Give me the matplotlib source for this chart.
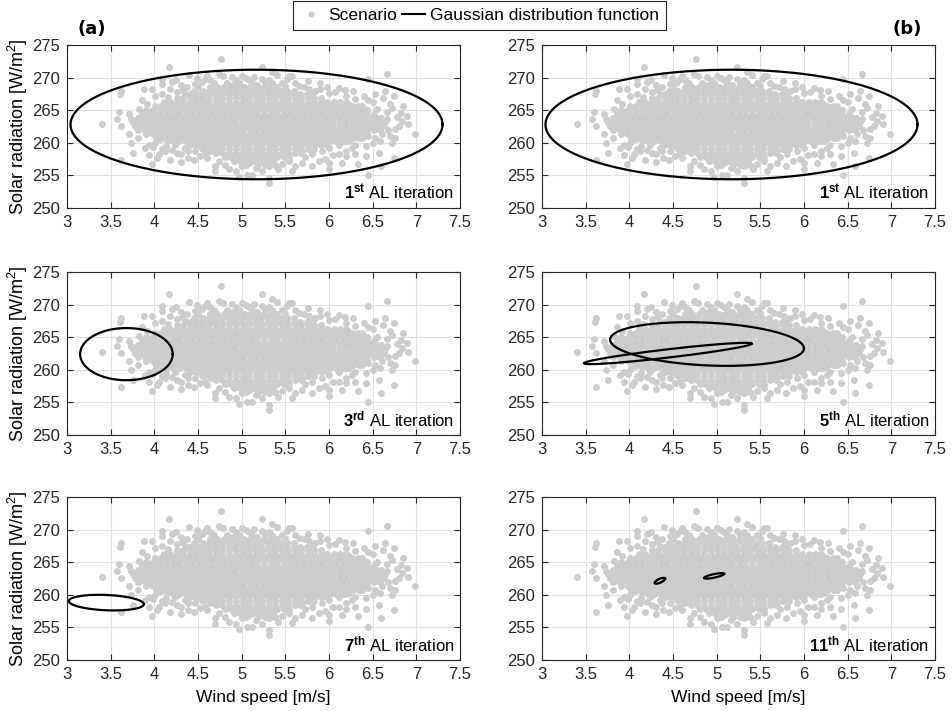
import numpy as np
import matplotlib.pyplot as plt
from matplotlib.lines import Line2D

plt.rcParams['font.family'] = ['Liberation Sans', 'DejaVu Sans']
plt.rcParams['mathtext.fontset'] = 'custom'
plt.rcParams['mathtext.rm'] = 'Liberation Sans'
plt.rcParams['mathtext.bf'] = 'Liberation Sans:bold'

# scenario cloud, dense part: solar radiation level -> wind speeds
core_rows = {
    269.2: [4.83, 4.97, 5.12, 5.27],
    268.6: [4.72, 4.80, 4.88, 4.95, 5.03, 5.10, 5.18, 5.26, 5.33, 5.41],
    268.0: [4.56, 4.63, 4.71, 4.78, 4.85, 4.93, 5.00, 5.07, 5.15, 5.22, 5.30, 5.37, 5.45, 5.52, 5.60],
    267.4: [4.41, 4.48, 4.56, 4.63, 4.70, 4.78, 4.85, 4.92, 5.00, 5.08, 5.15, 5.22, 5.30, 5.37, 5.44,
            5.52, 5.60, 5.67, 5.75, 5.80],
    266.8: [4.26, 4.33, 4.41, 4.48, 4.55, 4.63, 4.71, 4.78, 4.86, 4.93, 5.01, 5.08, 5.16, 5.23, 5.31,
            5.38, 5.46, 5.53, 5.61, 5.68, 5.76, 5.83, 5.91],
    266.2: [4.11, 4.18, 4.26, 4.33, 4.41, 4.48, 4.56, 4.63, 4.71, 4.78, 4.86, 4.93, 5.01, 5.08, 5.16,
            5.23, 5.31, 5.38, 5.46, 5.53, 5.61, 5.68, 5.76, 5.83, 5.91, 5.98, 6.06, 6.13, 6.19],
    265.6: [4.01, 4.08, 4.16, 4.23, 4.31, 4.38, 4.46, 4.53, 4.61, 4.68, 4.76, 4.83, 4.91, 4.98, 5.06,
            5.13, 5.21, 5.28, 5.36, 5.43, 5.51, 5.58, 5.66, 5.73, 5.81, 5.88, 5.96, 6.03, 6.11, 6.18,
            6.26, 6.33],
    265.0: [3.91, 3.98, 4.06, 4.13, 4.21, 4.28, 4.36, 4.43, 4.51, 4.58, 4.66, 4.73, 4.81, 4.88, 4.96,
            5.03, 5.11, 5.18, 5.26, 5.33, 5.41, 5.48, 5.56, 5.63, 5.71, 5.78, 5.86, 5.93, 6.01, 6.08,
            6.16, 6.23, 6.31, 6.38, 6.44],
    264.4: [3.86, 3.92, 4.00, 4.07, 4.15, 4.22, 4.29, 4.37, 4.44, 4.52, 4.59, 4.66, 4.74, 4.81, 4.89,
            4.96, 5.04, 5.11, 5.18, 5.26, 5.33, 5.41, 5.48, 5.55, 5.63, 5.70, 5.78, 5.85, 5.92, 6.00,
            6.07, 6.15, 6.22, 6.29, 6.37, 6.44, 6.52],
    263.8: [3.81, 3.88, 3.96, 4.03, 4.11, 4.18, 4.25, 4.33, 4.40, 4.48, 4.55, 4.62, 4.70, 4.77, 4.85,
            4.92, 5.00, 5.07, 5.14, 5.22, 5.29, 5.37, 5.44, 5.51, 5.59, 5.66, 5.74, 5.81, 5.88, 5.96,
            6.03, 6.11, 6.18, 6.25, 6.33, 6.40, 6.48, 6.55, 6.60],
    263.2: [3.76, 3.83, 3.91, 3.98, 4.06, 4.13, 4.20, 4.28, 4.35, 4.43, 4.50, 4.57, 4.65, 4.72, 4.80,
            4.87, 4.94, 5.02, 5.09, 5.17, 5.24, 5.31, 5.39, 5.46, 5.54, 5.61, 5.68, 5.76, 5.83, 5.91,
            5.98, 6.05, 6.13, 6.20, 6.28, 6.35, 6.42, 6.50, 6.57, 6.64],
    262.6: [3.78, 3.86, 3.93, 4.01, 4.08, 4.16, 4.23, 4.31, 4.38, 4.46, 4.53, 4.61, 4.68, 4.76, 4.83,
            4.91, 4.98, 5.06, 5.13, 5.21, 5.28, 5.36, 5.43, 5.51, 5.58, 5.66, 5.73, 5.81, 5.88, 5.96,
            6.03, 6.11, 6.18, 6.26, 6.33, 6.41, 6.48, 6.56, 6.63],
    262.0: [3.81, 3.89, 3.96, 4.04, 4.11, 4.19, 4.26, 4.34, 4.41, 4.49, 4.56, 4.64, 4.71, 4.79, 4.86,
            4.94, 5.01, 5.09, 5.16, 5.24, 5.31, 5.39, 5.46, 5.54, 5.61, 5.69, 5.76, 5.84, 5.91, 5.99,
            6.06, 6.14, 6.21, 6.29, 6.36, 6.44, 6.51, 6.58],
    261.4: [3.91, 3.98, 4.06, 4.13, 4.21, 4.28, 4.36, 4.43, 4.51, 4.58, 4.66, 4.73, 4.81, 4.88, 4.96,
            5.03, 5.11, 5.18, 5.26, 5.33, 5.41, 5.48, 5.56, 5.63, 5.71, 5.78, 5.86, 5.93, 6.01, 6.08,
            6.16, 6.23, 6.31, 6.38, 6.44],
    260.8: [4.02, 4.09, 4.17, 4.24, 4.32, 4.39, 4.47, 4.54, 4.62, 4.69, 4.77, 4.84, 4.92, 4.99, 5.07,
            5.14, 5.22, 5.29, 5.37, 5.44, 5.52, 5.59, 5.67, 5.74, 5.82, 5.89, 5.97, 6.04, 6.12, 6.19,
            6.27, 6.34],
    260.2: [4.21, 4.28, 4.36, 4.43, 4.51, 4.58, 4.66, 4.73, 4.81, 4.88, 4.96, 5.03, 5.11, 5.18, 5.26,
            5.33, 5.41, 5.48, 5.56, 5.63, 5.71, 5.78, 5.86, 5.93, 6.01, 6.08, 6.16, 6.20],
    259.6: [4.41, 4.48, 4.56, 4.63, 4.71, 4.78, 4.86, 4.93, 5.01, 5.08, 5.16, 5.23, 5.31, 5.38, 5.46,
            5.53, 5.61, 5.68, 5.76, 5.83, 5.91, 5.98],
    259.0: [4.56, 4.63, 4.71, 4.78, 4.86, 4.93, 5.01, 5.08, 5.16, 5.23, 5.31, 5.38, 5.46, 5.53, 5.61,
            5.68, 5.76, 5.83],
    258.4: [4.71, 4.78, 4.86, 4.93, 5.01, 5.08, 5.16, 5.23, 5.31, 5.38, 5.46, 5.53, 5.61, 5.68],
    257.8: [4.81, 4.88, 4.96, 5.03, 5.11, 5.18, 5.26, 5.33, 5.41, 5.48, 5.54],
    257.2: [4.91, 4.98, 5.06, 5.13, 5.21, 5.28, 5.36],
    256.6: [5.05, 5.19, 5.27],
}

# scenario cloud, loose points around the dense part (wind speed, solar radiation)
edge_points = [
    (4.76, 272.8), (4.17, 271.6), (5.23, 271.6), (5.35, 270.9), (5.54, 270.3), (5.58, 270.3),
    (6.66, 270.6), (6.45, 269.8), (4.09, 269.8), (4.49, 270.0), (4.74, 270.6), (4.79, 270.3),
    (5.00, 270.3), (5.14, 270.1), (5.98, 268.6), (6.18, 268.1), (5.77, 268.3), (5.71, 268.5),
    (6.64, 268.0), (6.74, 267.2), (3.88, 268.2), (3.97, 268.2), (3.62, 268.0), (3.61, 267.4),
    (4.09, 269.0), (4.20, 269.3), (4.30, 268.8), (4.37, 268.5), (4.47, 269.0), (4.55, 269.3),
    (4.64, 269.6), (5.39, 268.5), (5.46, 269.1), (5.61, 269.1), (5.84, 268.0), (6.07, 267.8),
    (6.19, 267.2), (6.30, 266.7), (6.40, 267.2), (6.45, 266.5), (6.53, 267.5),
    (4.89, 270.1), (4.93, 269.6), (5.08, 269.6), (5.23, 269.8), (5.31, 269.6),
    (4.01, 267.2), (4.09, 267.5), (4.16, 267.0), (4.26, 267.8), (4.35, 267.5), (4.45, 268.0),
    (4.55, 267.8), (4.64, 268.5), (4.70, 268.0),
    (3.40, 262.8), (3.57, 263.6), (3.60, 264.7), (3.62, 262.6), (3.71, 264.4), (3.73, 263.6),
    (3.71, 261.3), (3.73, 260.0), (3.76, 258.4), (3.62, 257.3), (3.81, 260.8), (3.88, 262.8),
    (3.82, 265.2), (3.86, 266.6), (3.92, 265.9), (3.94, 264.7), (3.89, 259.2), (3.94, 258.1),
    (3.97, 256.7), (4.03, 257.7), (4.09, 259.0), (4.05, 258.2), (4.18, 257.4), (4.26, 258.4),
    (4.30, 258.2), (4.39, 257.7), (4.47, 258.7), (4.55, 259.2), (4.58, 258.2), (4.64, 258.7),
    (4.69, 255.6), (4.81, 256.6), (4.74, 257.2), (4.97, 254.7), (5.06, 255.1), (5.12, 255.1),
    (5.31, 253.9), (5.31, 254.6), (5.23, 255.6), (5.42, 255.9), (5.38, 256.6), (5.61, 256.4),
    (5.80, 256.4), (5.88, 257.2), (6.00, 256.0), (6.00, 256.9), (6.11, 258.2), (6.19, 258.7),
    (6.26, 259.2), (6.33, 256.7), (6.45, 255.1), (6.59, 256.4), (6.57, 258.4), (6.74, 257.7),
    (6.72, 260.0), (6.76, 260.8), (6.99, 261.3), (6.89, 264.1), (6.84, 263.4), (6.80, 262.6),
    (6.76, 262.1), (6.66, 264.7), (6.66, 263.6), (6.72, 265.4), (6.70, 265.9), (6.61, 261.3),
    (6.53, 260.8), (6.30, 259.7), (6.38, 260.8), (6.45, 261.0), (6.22, 265.9), (6.30, 265.2),
    (6.38, 265.7),
    (3.94, 259.7), (4.01, 260.0), (4.13, 259.5), (4.24, 259.7), (4.35, 259.2), (4.45, 259.8),
    (5.69, 258.7), (5.81, 258.2), (5.92, 258.7), (6.00, 259.2), (6.11, 259.7), (6.23, 260.3),
    (5.00, 256.4), (5.08, 256.9), (5.16, 256.1), (5.31, 256.4), (5.46, 256.7), (5.54, 257.2),
    (4.85, 255.9), (4.93, 255.6), (5.58, 255.7), (5.69, 256.9),
    # upper band
    (4.18, 268.3), (4.32, 268.1), (4.50, 268.6), (4.68, 269.2), (4.90, 268.9), (5.18, 268.9),
    (5.35, 269.2), (5.50, 268.7), (5.66, 268.7), (5.90, 268.3), (6.00, 267.6), (6.12, 268.4),
    (6.27, 267.9), (5.76, 269.4), (5.52, 269.8), (5.40, 270.4), (4.58, 269.8), (4.40, 270.4),
    (5.90, 269.2), (4.25, 269.6), (4.60, 270.2), (5.05, 269.9),
    # lower left band
    (4.12, 258.7), (4.20, 258.9), (4.30, 257.0), (4.45, 257.3), (4.52, 258.0), (4.60, 257.6),
    (4.38, 258.7), (4.70, 256.5), (4.66, 259.6), (3.98, 259.3), (4.15, 260.4), (4.06, 260.6),
    # lower right band
    (5.72, 257.8), (5.78, 259.3), (5.90, 259.8), (6.05, 258.1), (6.20, 257.9), (6.30, 258.2),
    (6.42, 259.5), (6.50, 259.9), (5.95, 257.5), (6.15, 256.9), (6.42, 257.9), (5.85, 260.2),
    # right band
    (6.50, 266.3), (6.55, 265.1), (6.60, 262.4), (6.68, 261.9), (6.62, 266.8), (6.82, 264.6),
    (6.85, 265.6), (6.90, 262.8), (6.78, 263.9), (6.58, 260.3), (6.70, 261.0),
]

# Gaussian contours per panel: (mean wind, mean solar, half width, half height, correlation)
panel_ellipses = {
    'a1': [(5.17, 262.8, 2.13, 8.4, 0.0)],
    'a2': [(3.68, 262.4, 0.53, 4.0, 0.0)],
    'a3': [(3.45, 258.8, 0.43, 1.2, -0.2)],
    'b1': [(5.17, 262.8, 2.13, 8.4, 0.0)],
    'b2': [(4.89, 263.95, 1.11, 3.35, -0.2), (4.44, 262.5, 0.96, 1.63, 0.92)],
    'b3': [(4.35, 262.15, 0.06, 0.45, 0.7), (4.97, 262.9, 0.115, 0.42, 0.75)],
}
panel_iter = {'a1': ('1', 'st'), 'a2': ('3', 'rd'), 'a3': ('7', 'th'),
              'b1': ('1', 'st'), 'b2': ('5', 'th'), 'b3': ('11', 'th')}

wind = [x for xs in core_rows.values() for x in xs] + [p[0] for p in edge_points]
solar = [y for y, xs in core_rows.items() for _ in xs] + [p[1] for p in edge_points]

gray = '#cccccc'
fig = plt.figure(figsize=(9.52, 7.11), dpi=100)

col_x = {'a': 0.0704, 'b': 0.5693}
row_y = [0.7075, 0.3882, 0.0717]
t = np.linspace(0, 2 * np.pi, 300)

for col in ['a', 'b']:
    for r in range(3):
        key = f'{col}{r + 1}'
        ax = fig.add_axes([col_x[col], row_y[r], 0.4128, 0.2293])
        ax.scatter(wind, solar, s=25, color=gray, linewidths=0, zorder=2)
        for cx, cy, sx, sy, rho in panel_ellipses[key]:
            ex = cx + sx * np.cos(t)
            ey = cy + sy * (rho * np.cos(t) + np.sqrt(1 - rho ** 2) * np.sin(t))
            ax.plot(ex, ey, color='k', lw=1.6, zorder=3)
        ax.set_xlim(3, 7.5)
        ax.set_ylim(250, 275)
        ax.set_xticks(np.arange(3, 7.51, 0.5))
        ax.set_xticklabels(['3', '3.5', '4', '4.5', '5', '5.5', '6', '6.5', '7', '7.5'])
        ax.set_yticks(np.arange(250, 276, 5))
        ax.tick_params(direction='in', top=True, right=True, length=4, width=0.8,
                       labelsize=12, colors='#262626', pad=5)
        ax.grid(True, color='#e0e0e0', lw=0.8, zorder=0)
        ax.set_axisbelow(True)
        for sp in ax.spines.values():
            sp.set_color('#262626')
            sp.set_linewidth(0.8)
        num, suf = panel_iter[key]
        ax.text(0.985, 0.035, rf'$\mathbf{{{num}^{{{suf}}}}}$ AL iteration', transform=ax.transAxes,
                ha='right', va='bottom', fontsize=12, color='k', zorder=4)
        if col == 'a':
            ax.set_ylabel('Solar radiation [W/m$^2$]', fontsize=13)
            ax.yaxis.set_label_coords(-0.095, 0.5)
        if r == 2:
            ax.set_xlabel('Wind speed [m/s]', fontsize=12.5, labelpad=6)

fig.text(92 / 952, 1 - 29 / 711, '(a)', family='DejaVu Sans', weight='bold', fontsize=13,
         ha='center', va='center')
fig.text(907 / 952, 1 - 29 / 711, '(b)', family='DejaVu Sans', weight='bold', fontsize=13,
         ha='center', va='center')

h1 = Line2D([], [], ls='none', marker='o', ms=4.3, mfc=gray, mec='none')
h2 = Line2D([], [], color='k', lw=1.5)
leg = fig.legend([h1, h2], ['Scenario', 'Gaussian distribution function'], loc='upper center',
                 bbox_to_anchor=(0.5037, 1.0), ncol=2, fontsize=12.5, frameon=True, fancybox=False,
                 edgecolor='#262626', framealpha=1, handlelength=1.3, handletextpad=0.3,
                 columnspacing=0.3, borderpad=0.4, borderaxespad=0.05)
leg.get_frame().set_linewidth(0.8)

fig.savefig('out.png', dpi=100)
